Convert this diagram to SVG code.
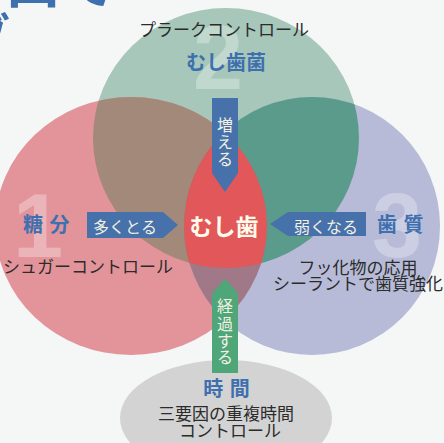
<svg xmlns="http://www.w3.org/2000/svg" width="444" height="443" viewBox="0 0 444 443">
<style>
.t{font-family:"Noto Sans CJK JP","Noto Sans",sans-serif}
.dk{fill:#2b2b2b;font-size:17px}
.bl{fill:#3e6fae;font-size:20px;font-weight:bold}
.aw{fill:#f3f0e2;font-size:16px}
.num{font-family:"Liberation Sans",Arial,sans-serif;font-weight:bold;font-size:90px;fill:#ffffff;fill-opacity:0.3}
.arB{fill:#4671aa}
.arG{fill:#4fa679}
</style>
<defs>
<ellipse id="eG" cx="226" cy="138" rx="133" ry="130"/>
<ellipse id="eR" cx="131" cy="226" rx="136" ry="129"/>
<ellipse id="eB" cx="312" cy="226" rx="128" ry="129"/>
<clipPath id="cR"><ellipse cx="131" cy="226" rx="136" ry="129"/></clipPath>
<clipPath id="cB"><ellipse cx="312" cy="226" rx="128" ry="129"/></clipPath>
</defs>
<rect width="444" height="443" fill="#f5f7f7"/>
<g id="title" class="t" fill="#3e6fae" font-weight="bold">
<text x="5" y="3" font-size="56">口で</text>
<text x="-40" y="56" font-size="50">ブ</text>
</g>
<g id="circles">
<use href="#eG" fill="#a6c7b9"/>
<use href="#eR" fill="#e3949a"/>
<use href="#eB" fill="#b7bbd8"/>
<g clip-path="url(#cR)"><use href="#eG" fill="#a3897a"/><use href="#eB" fill="#a07888"/></g>
<g clip-path="url(#cB)"><use href="#eG" fill="#5a9b8c"/></g>
<g clip-path="url(#cR)"><g clip-path="url(#cB)"><use href="#eG" fill="#e1575a"/></g></g>
<ellipse id="time-bg" cx="226" cy="418" rx="106" ry="58" fill="#d3d3d3"/>
</g>
<g id="numbers">
<text class="num" x="38" y="257" text-anchor="middle">1</text>
<text class="num" x="218" y="89" text-anchor="middle">2</text>
<text class="num" x="397" y="257" text-anchor="middle">3</text>
</g>
<g id="connectors">
<polygon class="arB" points="212,98 238,98 238,173 225,192 212,173"/>
<polygon class="arB" points="87,212 163,212 178,225 163,238 87,238"/>
<polygon class="arB" points="270,224 288,212 366,212 366,236 288,236"/>
<polygon class="arG" points="225,279 238,293 238,373 212,373 212,293"/>
<g class="t aw" text-anchor="middle">
<text x="225" y="131">増</text>
<text x="225" y="148">え</text>
<text x="225" y="165">る</text>
<text x="125" y="233">多くとる</text>
<text x="326" y="233">弱くなる</text>
<text x="225" y="312">経</text>
<text x="225" y="330">過</text>
<text x="225" y="347">す</text>
<text x="225" y="363">る</text>
</g>
</g>
<g id="node-bacteria" class="t" text-anchor="middle">
<text class="dk" x="224" y="36">プラークコントロール</text>
<text class="bl" x="226" y="70" font-size="21">むし歯菌</text>
</g>
<g id="node-sugar" class="t">
<text class="bl" x="23" y="232" letter-spacing="1">糖 分</text>
<text class="dk" x="88" y="273" text-anchor="middle">シュガーコントロール</text>
</g>
<g id="node-tooth" class="t">
<text class="bl" x="377" y="232" letter-spacing="1">歯 質</text>
<text class="dk" x="358" y="274" text-anchor="middle">フッ化物の応用</text>
<text class="dk" x="358" y="290" text-anchor="middle">シーラントで歯質強化</text>
</g>
<g id="node-caries" class="t">
<text x="224" y="235" text-anchor="middle" font-size="23" font-weight="bold" fill="#fffbea">むし歯</text>
</g>
<g id="node-time" class="t" text-anchor="middle">
<text class="bl" x="227" y="396" letter-spacing="1">時 間</text>
<text class="dk" x="226" y="420" font-size="16.5">三要因の重複時間</text>
<text class="dk" x="230" y="437" font-size="16.5">コントロール</text>
</g>
</svg>
